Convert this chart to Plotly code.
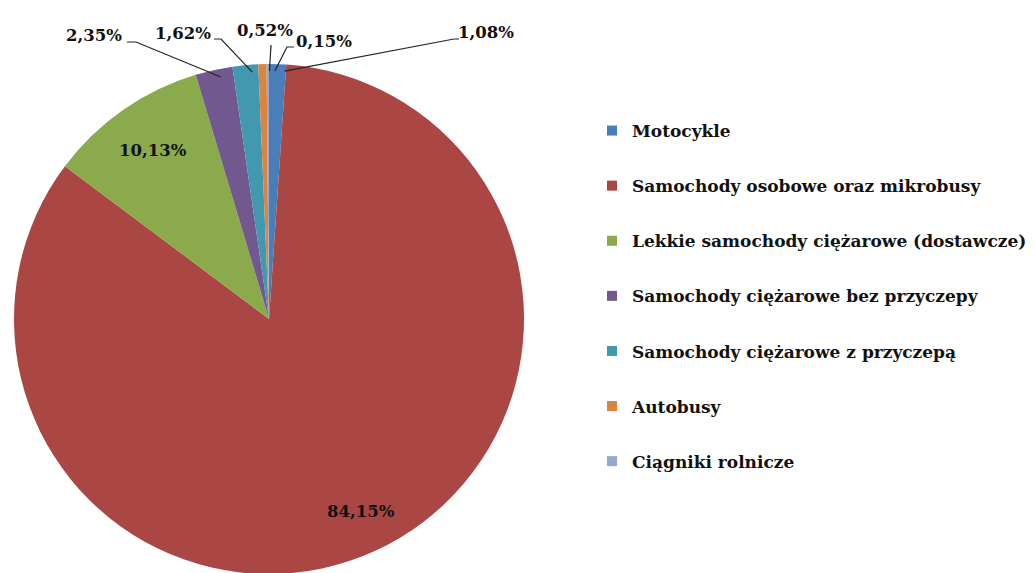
import math
import plotly.graph_objects as go

# ---- data ----
categories = [
    "Motocykle",
    "Samochody osobowe oraz mikrobusy",
    "Lekkie samochody ciężarowe (dostawcze)",
    "Samochody ciężarowe bez przyczepy",
    "Samochody ciężarowe z przyczepą",
    "Autobusy",
    "Ciągniki rolnicze",
]
shares = [1.08, 84.15, 10.13, 2.35, 1.62, 0.52, 0.15]
label_texts = ["1,08%", "84,15%", "10,13%", "2,35%", "1,62%", "0,52%", "0,15%"]

# ---- style ----
colors = ["#4A7EBB", "#AA4643", "#8BAA4C", "#71588F", "#4198AF", "#DB843D", "#93A9CF"]
W, H = 1035, 573
CX, CY, R = 268, 318, 255          # pie centre / radius in px
DOM_DX, DOM_DY = -7, -7            # plotly domain placement correction
SERIF = "DejaVu Serif"
FONT = dict(family=SERIF, size=16.5, color="#111111", weight="bold")

# label placement (px): inside labels use radius fraction, outside use text centre + elbow
inside = {1: 0.80, 2: 0.84}
outside = {
    0: dict(text=(478, 24), elbow=(446, 31), end=(451, 31)),
    3: dict(text=(86, 28), elbow=(128, 34), end=(119, 34)),
    4: dict(text=(175, 25), elbow=(213, 31), end=(206, 31)),
    5: dict(text=(257, 23), elbow=(263, 37), end=(263, 37)),
    6: dict(text=(316, 34), elbow=(279, 39), end=(286, 39)),
}

def px(x):
    return x / W

def py(y):
    return 1 - y / H

fig = go.Figure()
fig.add_trace(go.Pie(
    labels=categories, values=shares, sort=False, direction="clockwise", rotation=0,
    marker=dict(colors=colors, line=dict(width=0)),
    textinfo="none", hoverinfo="label+percent", showlegend=False,
    domain=dict(x=[px(CX - R + DOM_DX), px(CX + R + DOM_DX)],
                y=[py(CY + R + DOM_DY), py(CY - R + DOM_DY)]),
))

total = sum(shares)
annotations = []
shapes = []
cum = 0.0
for i, v in enumerate(shares):
    mid = (cum + v / 2) / total * 2 * math.pi
    cum += v
    if i in inside:
        d = R * inside[i]
        x = CX + d * math.sin(mid)
        y = CY - d * math.cos(mid)
        annotations.append(dict(x=px(x), y=py(y), xref="paper", yref="paper",
                                text=label_texts[i], showarrow=False, font=FONT,
                                xanchor="center", yanchor="middle"))
    else:
        o = outside[i]
        ex = CX + R * math.sin(mid)
        ey = CY - R * math.cos(mid)
        path = f"M {px(ex)} {py(ey)} L {px(o['elbow'][0])} {py(o['elbow'][1])} L {px(o['end'][0])} {py(o['end'][1])}"
        shapes.append(dict(type="path", xref="paper", yref="paper", path=path,
                           line=dict(color="#222222", width=1.2)))
        annotations.append(dict(x=px(o["text"][0]), y=py(o["text"][1]), xref="paper", yref="paper",
                                text=label_texts[i], showarrow=False, font=FONT,
                                xanchor="center", yanchor="middle"))

# legend entries via marker-only traces
for i, c in enumerate(categories):
    fig.add_trace(go.Scatter(x=[None], y=[None], mode="markers", name=c,
                             legendgroup=f"g{i}",
                             marker=dict(symbol="square", size=10, color=colors[i])))

fig.update_layout(
    width=W, height=H,
    margin=dict(l=0, r=0, t=0, b=0),
    paper_bgcolor="white", plot_bgcolor="white",
    xaxis=dict(visible=False), yaxis=dict(visible=False),
    annotations=annotations, shapes=shapes,
    showlegend=True,
    legend=dict(x=px(584), xanchor="left", y=py(288), yanchor="middle",
                font=dict(family=SERIF, size=17, color="#111111", weight="bold"),
                tracegroupgap=30, itemwidth=30, bgcolor="rgba(0,0,0,0)"),
)

fig.write_html("out.html")
